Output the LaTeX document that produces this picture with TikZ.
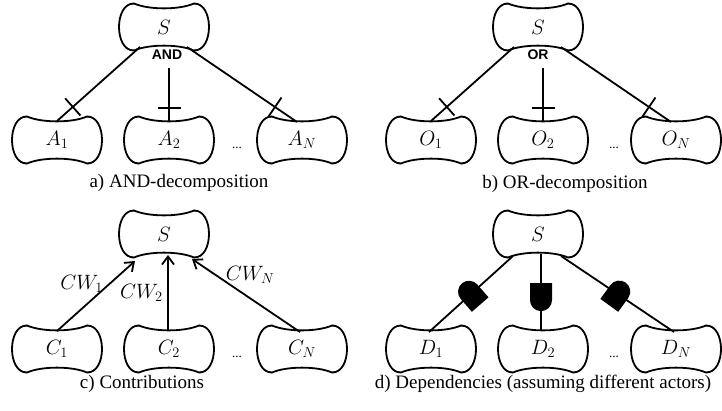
\documentclass[tikz,border=0pt]{standalone}
\usepackage{fontspec}
\setmainfont{Liberation Serif}
\newfontfamily\lsans{Liberation Sans}
\usetikzlibrary{calc,arrows.meta,decorations.markings}
\tikzset{
  ln/.style={line width=1.8pt},
  goal/.style={minimum width=88pt,minimum height=46pt,inner sep=0pt,font=\fontsize{19.5}{22}\selectfont},
  captxt/.style={anchor=base,font=\fontsize{19}{22}\selectfont},
  oplbl/.style={font=\lsans\bfseries\fontsize{14}{16}\selectfont},
  dotsl/.style={anchor=base,font=\fontsize{13}{15}\selectfont},
  cwlbl/.style={font=\fontsize{19.5}{22}\selectfont},
  tickd/.style={postaction={decorate},decoration={markings,mark=at position #1 with {\draw[line width=1.8pt] (0,-11.5) -- (0,11.5);}}},
  contrib/.style={ln,-{Straight Barb[length=8pt,width=12pt]}},
}
\newcommand\goalshape[1]{%
  \draw[ln,shift={(#1.center)}] (-30,23.5) .. controls (-15,17) and (15,17) .. (30,23.5)
    .. controls (50,24) and (50,-24) .. (30,-23.5)
    .. controls (15,-17) and (-15,-17) .. (-30,-23.5)
    .. controls (-50,-24) and (-50,24) .. cycle;
  \draw[line width=1.4pt,shift={(#1.center)}] (-30,23.5) -- (-34,23) (30,23.5) -- (34,23)
    (30,-23.5) -- (34,-23) (-30,-23.5) -- (-34,-23);
}
\newcommand\depsym[2]{\fill[shift={(#1)},rotate=#2] (-14,-11) -- (3,-11) arc[start angle=-90,end angle=90,radius=11] -- (-14,11) -- cycle;}
\begin{document}
\begin{tikzpicture}[x=1pt,y=1pt]
\useasboundingbox (0,0) rectangle (722,-410);
% ---------- panel a
\node[goal] (Sa) at (164,-27) {$S$};
\node[goal] (A1) at (57,-140) {$A_1$};
\node[goal] (A2) at (169,-140) {$A_2$};
\node[goal] (AN) at (302,-140) {$A_N$};
\node[dotsl] (dotsa) at (237,-148) {...};
\node[oplbl] (anda) at (167,-55) {AND};
\node[captxt] (capa) at (179,-187) {a) AND-decomposition};
% ---------- panel b
\node[goal] (Sb) at (538,-27) {$S$};
\node[goal] (O1) at (431,-140) {$O_1$};
\node[goal] (O2) at (543,-140) {$O_2$};
\node[goal] (ON) at (676,-140) {$O_N$};
\node[dotsl] (dotsb) at (614,-148) {...};
\node[oplbl] (orb) at (538,-55) {OR};
\node[captxt] (capb) at (565,-188) {b) OR-decomposition};
% ---------- panel c
\node[goal] (Sc) at (164,-234) {$S$};
\node[goal] (C1) at (57,-349) {$C_1$};
\node[goal] (C2) at (169,-349) {$C_2$};
\node[goal] (CN) at (302,-349) {$C_N$};
\node[dotsl] (dotsc) at (237,-357) {...};
\node[captxt] (capc) at (142,-388) {c) Contributions};
% ---------- panel d
\node[goal] (Sd) at (538,-234) {$S$};
\node[goal] (D1) at (431,-349) {$D_1$};
\node[goal] (D2) at (543,-349) {$D_2$};
\node[goal] (DN) at (676,-349) {$D_N$};
\node[dotsl] (dotsd) at (614,-357) {...};
\node[captxt] (capd) at (543,-388) {d) Dependencies (assuming different actors)};
% outlines
\foreach \n in {Sa,A1,A2,AN,Sb,O1,O2,ON,Sc,C1,C2,CN,Sd,D1,D2,DN} {\goalshape{\n}}
% ---------- edges a
\coordinate (a2top) at ($(A2.center)+(0,72)$);
\draw[ln,tickd=0.81] ($(Sa.center)+(-24,-20)$) -- ($(A1.center)+(0,19)$);
\draw[ln,tickd=0.75] (a2top) -- ($(A2.center)+(0,19)$);
\draw[ln,tickd=0.8] ($(Sa.center)+(23,-20)$) -- ($(AN.center)+(-5,18)$);
% ---------- edges b
\coordinate (o2top) at ($(O2.center)+(0,72)$);
\draw[ln,tickd=0.81] ($(Sb.center)+(-24,-20)$) -- ($(O1.center)+(0,19)$);
\draw[ln,tickd=0.75] (o2top) -- ($(O2.center)+(0,19)$);
\draw[ln,tickd=0.8] ($(Sb.center)+(23,-20)$) -- ($(ON.center)+(-5,18)$);
% ---------- edges c
\draw[contrib] ($(C1.center)+(0,18)$) -- node[cwlbl,pos=0.67,left=2pt] (cw1) {$CW_1$} ($(Sc.center)+(-29,-27)$);
\draw[contrib] ($(C2.center)+(-1,18)$) -- node[cwlbl,pos=0.5,left=1pt] (cw2) {$CW_2$} ($(Sc.center)+(4,-21)$);
\draw[contrib] ($(CN.center)+(-2,17)$) -- node[cwlbl,pos=0.78,right=6pt] (cwn) {$CW_N$} ($(Sc.center)+(28,-25)$);
% ---------- edges d
\draw[ln] ($(Sd.center)+(-25,-22)$) -- coordinate[pos=0.5] (m1) ($(D1.center)+(-2,17)$);
\draw[ln] ($(Sd.center)+(3,-20)$) -- coordinate[pos=0.56] (m2) ($(D2.center)+(-2,18)$);
\draw[ln] ($(Sd.center)+(23,-22)$) -- coordinate[pos=0.5] (mN) ($(DN.center)+(-2,17)$);
\depsym{m1}{131}
\depsym{m2}{-90}
\depsym{mN}{54}
\end{tikzpicture}
\end{document}
